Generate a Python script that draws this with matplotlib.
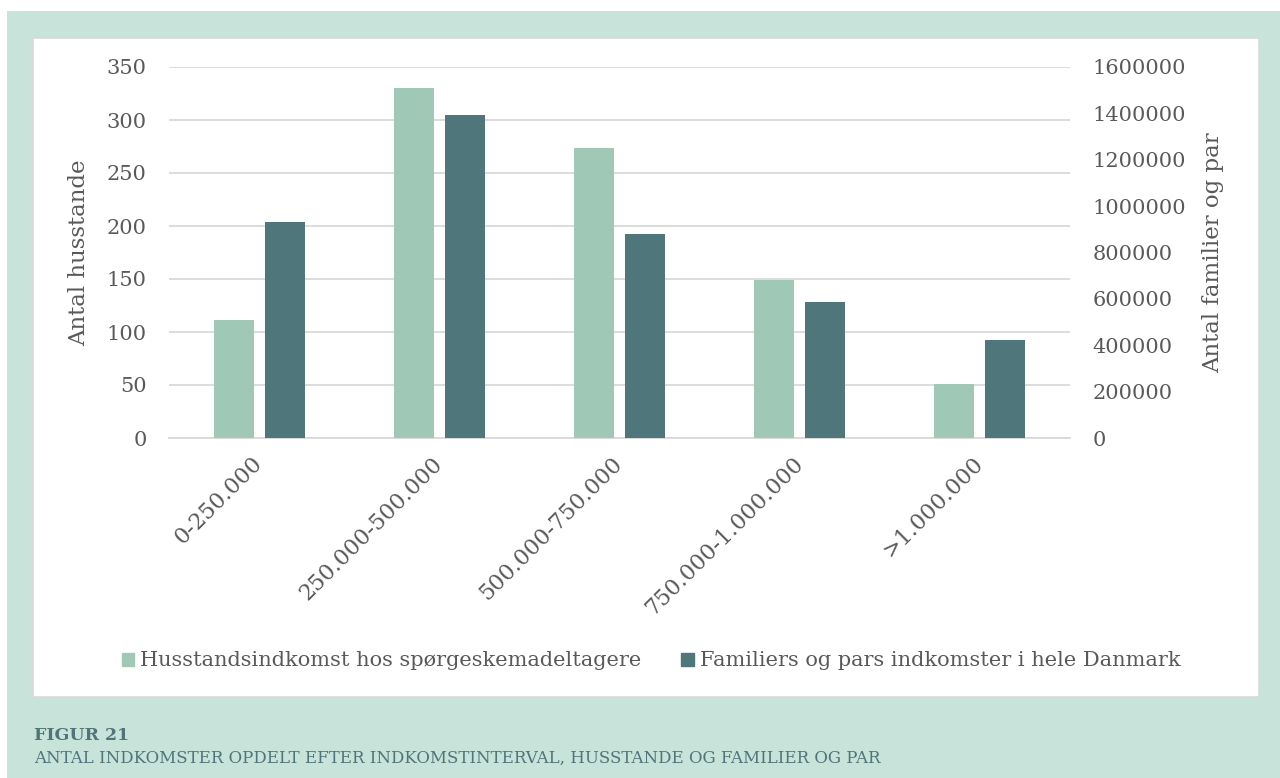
import matplotlib
matplotlib.use('Agg')
import matplotlib.pyplot as plt
from matplotlib.patches import Rectangle, Patch
from matplotlib.ticker import MultipleLocator, FuncFormatter

# Income intervals (DKK)
categories = ['0-250.000', '250.000-500.000', '500.000-750.000',
              '750.000-1.000.000', '>1.000.000']
# Households among survey respondents (left axis)
husstande = [111, 330, 274, 149, 51]
# Families and couples in all of Denmark (right axis)
familier = [933000, 1392000, 881000, 585000, 423000]

label_husstande = 'Husstandsindkomst hos spørgeskemadeltagere'
label_familier = 'Familiers og pars indkomster i hele Danmark'

GREEN_BG = '#c8e3d9'
LIGHT = '#9fc9b6'
DARK = '#4f767b'
TEXT = '#595959'
TEAL = '#4f7479'
GRID = '#d9d9d9'

W, H = 1280, 778
plt.rcParams['font.family'] = ['DejaVu Serif']

fig = plt.figure(figsize=(W / 100, H / 100), dpi=100)
fig.patch.set_facecolor('white')


def box(x0, y0, x1, y1):
    # pixel box (top-left origin) -> figure fraction rect
    return (x0 / W, 1 - y1 / H), (x1 - x0) / W, (y1 - y0) / H


xy, w, h = box(7, 11, W, H)
fig.add_artist(Rectangle(xy, w, h, transform=fig.transFigure,
                         facecolor=GREEN_BG, edgecolor='none', zorder=-20))
xy, w, h = box(33, 38, 1259, 697)
fig.add_artist(Rectangle(xy, w, h, transform=fig.transFigure,
                         facecolor='white', edgecolor=GRID, linewidth=1.2, zorder=-19))

# plot area
left, top, right, bottom = 169, 67, 1070, 438
ax = fig.add_axes([left / W, 1 - bottom / H, (right - left) / W, (bottom - top) / H])
ax.patch.set_alpha(0)
ax2 = ax.twinx()

x = list(range(len(categories)))
bw = 0.222
off = 0.142
ax.bar([i - off for i in x], husstande, width=bw, color=LIGHT, zorder=3)
ax2.bar([i + off for i in x], familier, width=bw, color=DARK, zorder=3)

ax.set_xlim(-0.5, len(categories) - 0.5)
ax.set_ylim(0, 350)
ax2.set_ylim(0, 1600000)
ax.yaxis.set_major_locator(MultipleLocator(50))
ax2.yaxis.set_major_locator(MultipleLocator(200000))
ax2.yaxis.set_major_formatter(FuncFormatter(lambda v, p: f'{int(v)}'))

ax.grid(axis='y', color=GRID, linewidth=1.3, zorder=0)
ax.set_axisbelow(True)
for a in (ax, ax2):
    for s in a.spines.values():
        s.set_visible(False)
ax.spines['bottom'].set_visible(True)
ax.spines['bottom'].set_color(GRID)
ax.spines['bottom'].set_linewidth(1.3)

ax.tick_params(axis='y', length=0, pad=16, labelsize=15, labelcolor=TEXT)
ax2.tick_params(axis='y', length=0, pad=16, labelsize=15, labelcolor=TEXT)
ax.tick_params(axis='x', length=0, pad=16, labelsize=16, labelcolor=TEXT)
ax.set_xticks(x)
ax.set_xticklabels(categories, rotation=45, ha='right', va='center',
                   rotation_mode='anchor')

ax.set_ylabel('Antal husstande', fontsize=16.5, color=TEXT, labelpad=12)
ax2.set_ylabel('Antal familier og par', fontsize=16.5, color=TEXT, labelpad=12)

handles = [Patch(color=LIGHT, label=label_husstande),
           Patch(color=DARK, label=label_familier)]
fig.legend(handles=handles, loc='center', bbox_to_anchor=(651 / W, 1 - 661 / H),
           ncol=2, frameon=False, fontsize=15, labelcolor=TEXT,
           handlelength=0.6, handleheight=0.6, handletextpad=0.3,
           columnspacing=1.9)

fig.text(34 / W, 1 - 736 / H, 'FIGUR 21', fontsize=12.5, fontweight='bold',
         color=TEAL, ha='left', va='center')
fig.text(34 / W, 1 - 758 / H,
         'ANTAL INDKOMSTER OPDELT EFTER INDKOMSTINTERVAL, HUSSTANDE OG FAMILIER OG PAR',
         fontsize=12, color=TEAL, ha='left', va='center')

fig.savefig('out.png', dpi=100, facecolor=fig.get_facecolor())
